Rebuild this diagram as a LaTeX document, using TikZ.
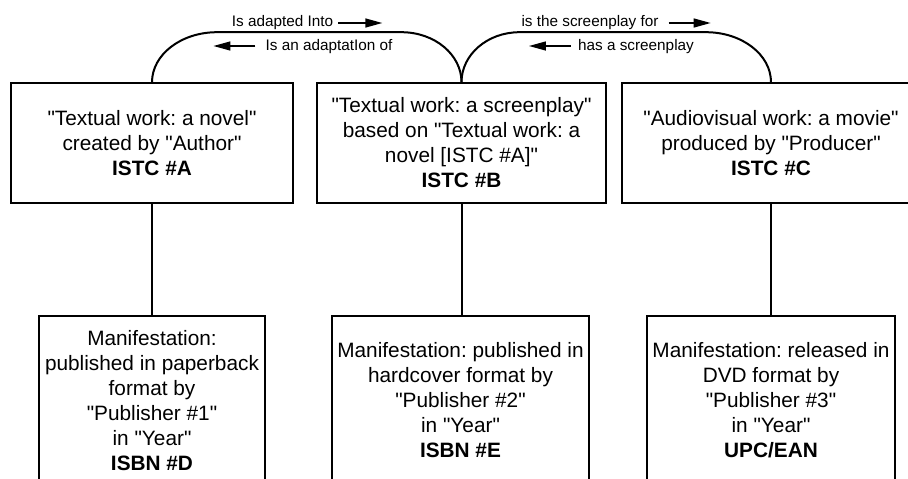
\documentclass[tikz,border=0pt]{standalone}
\usepackage{fontspec}
\setmainfont{Liberation Sans}[Ligatures=TeXOff]
\usetikzlibrary{arrows.meta}
\frenchspacing
\begin{document}
\begin{tikzpicture}[x=1pt,y=1pt,
  box/.style={draw, line width=1.6pt, align=center, inner sep=0pt,
    font=\fontsize{20.8}{25}\selectfont},
  lab/.style={font=\fontsize{15.3}{18}\selectfont, inner sep=0pt, anchor=base},
  link/.style={line width=2pt},
  arr/.style={line width=1.4pt, -{Triangle[length=17pt,width=9pt]}}]
\useasboundingbox (0,0) rectangle (908,-479);
\clip (0,0) rectangle (908,-479);

% top boxes
\node[box, minimum width=282, minimum height=120] (A) at (152,-143)
  {"Textual work: a novel"\\created by "Author"\\\textbf{ISTC \#A}};
\node[box, minimum width=289, minimum height=120] (B) at (461.5,-143)
  {"Textual work: a screenplay"\\based on "Textual work: a\\novel [ISTC \#A]"\\\textbf{ISTC \#B}};
\node[box, minimum width=298, minimum height=120] (C) at (771,-143)
  {"Audiovisual work: a movie"\\produced by "Producer"\\\textbf{ISTC \#C}};

% bottom boxes
\node[box, minimum width=226, minimum height=169] (D) at (152,-400.5)
  {Manifestation:\\published in paperback\\format by\\"Publisher \#1"\\in "Year"\\\textbf{ISBN \#D}};
\node[box, minimum width=257, minimum height=169] (E) at (460.5,-400.5)
  {Manifestation: published in\\hardcover format by\\"Publisher \#2"\\in "Year"\\\textbf{ISBN \#E}};
\node[box, minimum width=248, minimum height=169] (F) at (771,-400.5)
  {Manifestation: released in\\DVD format by\\"Publisher \#3"\\in "Year"\\\textbf{UPC/EAN}};

% vertical links
\draw[link] (A.south) -- (A.south |- D.north);
\draw[link] (B.south) -- (B.south |- E.north);
\draw[link] (C.south) -- (C.south |- F.north);

% arches
\draw[link] (A.north) arc[start angle=180,end angle=90,x radius=65,y radius=50]
  -- ([shift={(-60,50)}]B.north) arc[start angle=90,end angle=0,x radius=60,y radius=50];
\draw[link] (B.north) arc[start angle=180,end angle=90,x radius=58,y radius=50]
  -- ([shift={(-65,50)}]C.north) arc[start angle=90,end angle=0,x radius=65,y radius=50];

% labels
\node[lab] (l1) at (282.5,-27) {Is adapted Into};
\node[lab] (l2) at (329,-50) {Is an adaptatIon of};
\node[lab] (l3) at (590,-27) {is the screenplay for};
\node[lab] (l4) at (636,-50) {has a screenplay};

\coordinate (l1a) at ([shift={(5,4)}]l1.base east);
\coordinate (l1b) at ([shift={(49,4)}]l1.base east);
\coordinate (l2a) at ([shift={(-10,4)}]l2.base west);
\coordinate (l2b) at ([shift={(-52,4)}]l2.base west);
\coordinate (l3a) at ([shift={(10,4)}]l3.base east);
\coordinate (l3b) at ([shift={(52,4)}]l3.base east);
\coordinate (l4a) at ([shift={(-7,4)}]l4.base west);
\coordinate (l4b) at ([shift={(-49,4)}]l4.base west);
\draw[arr] (l1a) -- (l1b);
\draw[arr] (l2a) -- (l2b);
\draw[arr] (l3a) -- (l3b);
\draw[arr] (l4a) -- (l4b);
\end{tikzpicture}
\end{document}
